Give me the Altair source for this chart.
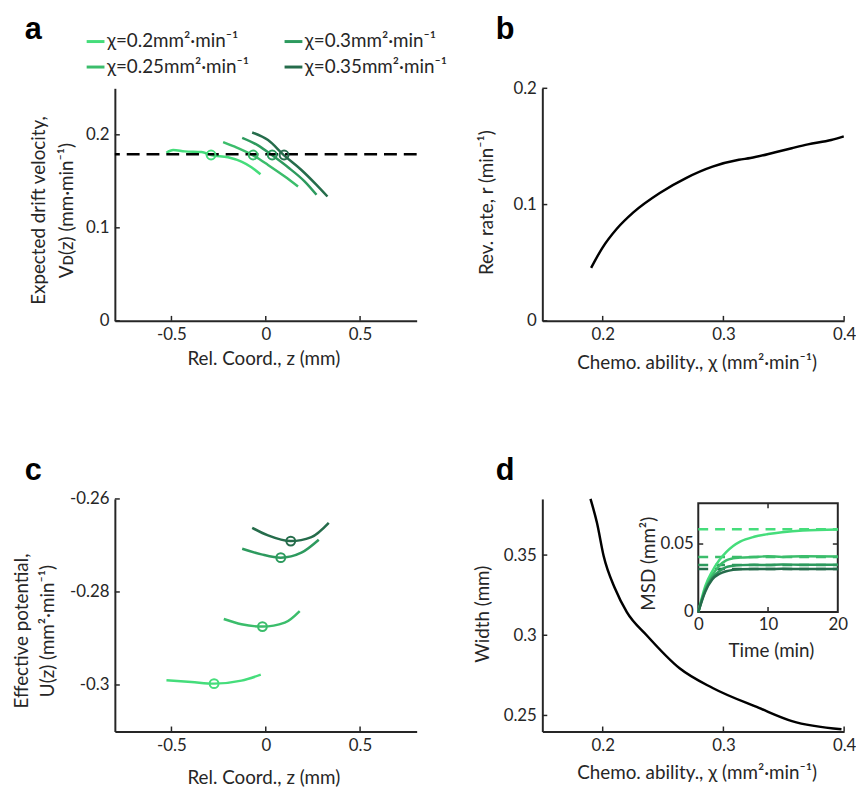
import altair as alt
import pandas as pd

FONT = "Lato"
LETTER_FONT = "Liberation Sans"
INK = "#262626"
W, H = 305, 235

chi_labels = ["χ=0.2mm²·min⁻¹", "χ=0.25mm²·min⁻¹", "χ=0.3mm²·min⁻¹", "χ=0.35mm²·min⁻¹"]
chi_colors = ["#45dd7b", "#3bbd6b", "#2d9a5e", "#256c4b"]
L020, L025, L030, L035 = chi_labels

# ---------------- panel a : expected drift velocity ----------------
a_z_020 = [-0.527, -0.491, -0.429, -0.341, -0.29, -0.20, -0.129, -0.076, -0.028]
a_v_020 = [0.1807, 0.1836, 0.1822, 0.1815, 0.1783, 0.1758, 0.1711, 0.1651, 0.1576]
a_z_025 = [-0.226, -0.164, -0.067, 0.012, 0.101, 0.171]
a_v_025 = [0.1922, 0.1872, 0.1779, 0.1676, 0.1551, 0.1444]
a_z_030 = [-0.125, -0.041, 0.034, 0.118, 0.207, 0.269]
a_v_030 = [0.1968, 0.1886, 0.1779, 0.1651, 0.1497, 0.1355]
a_z_035 = [-0.072, 0.012, 0.097, 0.189, 0.269, 0.327]
a_v_035 = [0.2025, 0.1943, 0.1779, 0.1622, 0.1462, 0.1337]
a_mark_z = [-0.29, -0.067, 0.034, 0.097]
a_mark_v = [0.1783, 0.1783, 0.1783, 0.1783]
a_target_v = [0.179]

# ---------------- panel b : reversal rate ----------------
b_chi = [0.1904, 0.1995, 0.2117, 0.2254, 0.2473, 0.269, 0.291, 0.3128, 0.3224, 0.343, 0.3566, 0.370, 0.3893, 0.3997]
b_rate = [0.0455, 0.0624, 0.0792, 0.0933, 0.110, 0.1228, 0.1326, 0.1385, 0.1400, 0.1450, 0.1485, 0.1518, 0.1556, 0.1587]

# ---------------- panel c : effective potential ----------------
c_z_020 = [-0.5265, -0.394, -0.274, -0.129, -0.0265]
c_u_020 = [-0.2990, -0.29936, -0.29971, -0.29907, -0.29779]
c_z_025 = [-0.2226, -0.129, -0.0177, 0.1007, 0.180]
c_u_025 = [-0.28581, -0.28695, -0.28745, -0.2866, -0.2841]
c_z_030 = [-0.125, -0.023, 0.0795, 0.189, 0.281]
c_u_030 = [-0.27070, -0.27191, -0.27262, -0.27155, -0.26877]
c_z_035 = [-0.072, 0.012, 0.1325, 0.242, 0.334]
c_u_035 = [-0.26620, -0.26784, -0.26906, -0.2682, -0.26513]
c_mark_z = [-0.274, -0.0177, 0.0795, 0.1325]
c_mark_u = [-0.29971, -0.28745, -0.27262, -0.26906]

# ---------------- panel d : width + MSD inset ----------------
d_chi = [0.1899, 0.1953, 0.2008, 0.2104, 0.2200, 0.2364, 0.2637, 0.2911, 0.3294, 0.3568, 0.3978]
d_width = [0.385, 0.370, 0.3494, 0.3288, 0.3144, 0.300, 0.2794, 0.2671, 0.2547, 0.2465, 0.2414]

ins_t = [0, 1, 2, 3, 4, 5, 6, 8, 10, 12, 15, 20]
ins_msd_020 = [0, 0.019, 0.030, 0.038, 0.044, 0.0485, 0.0517, 0.0553, 0.0573, 0.0587, 0.0600, 0.0607]
ins_msd_025 = [0, 0.017, 0.027, 0.034, 0.038, 0.0395, 0.0400, 0.0405, 0.0410, 0.0405, 0.0410, 0.0408]
ins_msd_030 = [0, 0.016, 0.025, 0.030, 0.033, 0.0340, 0.0345, 0.0348, 0.0345, 0.0350, 0.0347, 0.0348]
ins_msd_035 = [0, 0.015, 0.024, 0.028, 0.030, 0.0310, 0.0315, 0.0317, 0.0316, 0.0318, 0.0316, 0.0317]
ins_plateau = [0.0609, 0.0405, 0.0345, 0.0316]
ins_t_span = [0, 20]

# tick values
a_xticks = [-0.5, 0, 0.5]
a_yticks = [0, 0.1, 0.2]
b_xticks = [0.2, 0.3, 0.4]
b_yticks = [0, 0.1, 0.2]
c_yticks = [-0.3, -0.28, -0.26]
d_yticks = [0.25, 0.3, 0.35]
ins_xticks = [0, 10, 20]
ins_yticks = [0, 0.05]

# inset placement inside panel d (pixels)
INS_X0, INS_X1, INS_YB, INS_YT = 157.6, 298.6, 114.3, 4.3


def long(pairs):
    rows = []
    for lbl, xs, ys in pairs:
        for x, y in zip(xs, ys):
            rows.append({"chi": lbl, "x": x, "y": y})
    return pd.DataFrame(rows)


def color_enc(legend=None):
    return alt.Color("chi:N", scale=alt.Scale(domain=chi_labels, range=chi_colors), legend=legend)


def ax_bottom(title, values, tx, ty, **kw):
    return alt.Axis(title=title, values=values, labelExpr="'' + datum.value", ticks=False,
                    titleX=tx, titleY=ty, titleAlign="center", titleBaseline="middle", titleAngle=0,
                    labelPadding=6, labelFlush=False, labelOverlap=False, **kw)


def ax_left(title, values, tx, ty, lh=27, **kw):
    return alt.Axis(title=title, values=values, labelExpr="'' + datum.value", ticks=False,
                    titleX=tx, titleY=ty, titleAlign="center", titleBaseline="middle", titleAngle=270,
                    titleLineHeight=lh, labelPadding=6, labelFlush=False, labelOverlap=False, **kw)


def xticks(values, scale, axis):
    return alt.Chart(pd.DataFrame({"x": values})).mark_rule(color=INK, strokeWidth=1.5).encode(
        x=alt.X("x:Q", scale=scale, axis=axis), y=alt.value(H), y2=alt.value(H - 5))


def yticks(values, scale, axis):
    return alt.Chart(pd.DataFrame({"y": values})).mark_rule(color=INK, strokeWidth=1.5).encode(
        y=alt.Y("y:Q", scale=scale, axis=axis), x=alt.value(0), x2=alt.value(5))


def letter(ch, x, y):
    return alt.Chart(pd.DataFrame({"t": [ch]})).mark_text(
        font=LETTER_FONT, fontSize=31, fontWeight="bold", align="left", baseline="alphabetic", color="black"
    ).encode(text="t:N", x=alt.value(x), y=alt.value(y))


# ---------- panel a ----------
xs_a = alt.Scale(domain=[-0.8, 0.8], nice=False, zero=False)
ys_a = alt.Scale(domain=[0, 0.25], nice=False, zero=False)
xax_a = ax_bottom("Rel. Coord., z (mm)", a_xticks, 150, 38)
yax_a = ax_left(["Expected drift velocity,", "Vᴅ(z)  (mm·min⁻¹)"], a_yticks, -77, 123, lh=28)
df_a = long([(L020, a_z_020, a_v_020), (L025, a_z_025, a_v_025),
             (L030, a_z_030, a_v_030), (L035, a_z_035, a_v_035)])
legend_a = alt.Legend(title=None, orient="none", legendX=-30, legendY=-58, columns=2,
                      symbolType="stroke", symbolSize=324, symbolStrokeWidth=3,
                      labelFont=FONT, labelFontSize=19, labelColor=INK, rowPadding=5,
                      columnPadding=29, labelOffset=1, padding=0, direction="vertical")
lines_a = alt.Chart(df_a).mark_line(strokeWidth=2.5, interpolate="monotone").encode(
    x=alt.X("x:Q", scale=xs_a, axis=xax_a),
    y=alt.Y("y:Q", scale=ys_a, axis=yax_a),
    color=color_enc(legend_a),
)
dash_a = alt.Chart(pd.DataFrame({"y": a_target_v})).mark_rule(
    color="black", strokeWidth=2.5, strokeDash=[13, 7]).encode(y=alt.Y("y:Q", scale=ys_a, axis=yax_a))
marks_a = alt.Chart(pd.DataFrame({"chi": chi_labels, "x": a_mark_z, "y": a_mark_v})).mark_point(
    shape="circle", filled=False, size=80, strokeWidth=2, opacity=1).encode(
    x=alt.X("x:Q", scale=xs_a, axis=xax_a), y=alt.Y("y:Q", scale=ys_a, axis=yax_a), color=color_enc(legend_a))
panel_a = alt.layer(lines_a, dash_a, marks_a, xticks(a_xticks, xs_a, xax_a), yticks(a_yticks, ys_a, yax_a),
                    letter("a", -91, -50)).properties(width=W, height=H)

# ---------- panel b ----------
xs_b = alt.Scale(domain=[0.15, 0.4], nice=False, zero=False)
ys_b = alt.Scale(domain=[0, 0.2], nice=False, zero=False)
xax_b = ax_bottom("Chemo. ability., χ (mm²·min⁻¹)", b_xticks, 156, 42)
yax_b = ax_left("Rev. rate, r (min⁻¹)", b_yticks, -56, 115)
line_b = alt.Chart(pd.DataFrame({"x": b_chi, "y": b_rate})).mark_line(
    color="black", strokeWidth=2.5, interpolate="monotone").encode(
    x=alt.X("x:Q", scale=xs_b, axis=xax_b),
    y=alt.Y("y:Q", scale=ys_b, axis=yax_b),
)
panel_b = alt.layer(line_b, xticks(b_xticks, xs_b, xax_b), yticks(b_yticks, ys_b, yax_b),
                    letter("b", -47, -50)).properties(width=W, height=H)

# ---------- panel c ----------
xs_c = alt.Scale(domain=[-0.8, 0.8], nice=False, zero=False)
ys_c = alt.Scale(domain=[-0.31, -0.26], nice=False, zero=False)
xax_c = ax_bottom("Rel. Coord., z (mm)", a_xticks, 150, 47)
yax_c = ax_left(["Effective potential,", "U(z) (mm²·min⁻¹)"], c_yticks, -94, 133, lh=26)
df_c = long([(L020, c_z_020, c_u_020), (L025, c_z_025, c_u_025),
             (L030, c_z_030, c_u_030), (L035, c_z_035, c_u_035)])
lines_c = alt.Chart(df_c).mark_line(strokeWidth=2.5, interpolate="monotone").encode(
    x=alt.X("x:Q", scale=xs_c, axis=xax_c),
    y=alt.Y("y:Q", scale=ys_c, axis=yax_c),
    color=color_enc(),
)
marks_c = alt.Chart(pd.DataFrame({"chi": chi_labels, "x": c_mark_z, "y": c_mark_u})).mark_point(
    shape="circle", filled=False, size=80, strokeWidth=2, opacity=1).encode(
    x=alt.X("x:Q", scale=xs_c, axis=xax_c), y=alt.Y("y:Q", scale=ys_c, axis=yax_c), color=color_enc())
panel_c = alt.layer(lines_c, marks_c, xticks(a_xticks, xs_c, xax_c), yticks(c_yticks, ys_c, yax_c),
                    letter("c", -91, -19)).properties(width=W, height=H)

# ---------- panel d ----------
xs_d = alt.Scale(domain=[0.15, 0.4], nice=False, zero=False)
ys_d = alt.Scale(domain=[0.24, 0.385], nice=False, zero=False)
xax_d = ax_bottom("Chemo. ability., χ (mm²·min⁻¹)", b_xticks, 156, 42)
yax_d = ax_left("Width (mm)", d_yticks, -60, 116)
line_d = alt.Chart(pd.DataFrame({"x": d_chi, "y": d_width})).mark_line(
    color="black", strokeWidth=2.5, interpolate="monotone").encode(
    x=alt.X("x:Q", scale=xs_d, axis=xax_d),
    y=alt.Y("y:Q", scale=ys_d, axis=yax_d),
)
d_main = alt.layer(line_d, xticks(b_xticks, xs_d, xax_d), yticks(d_yticks, ys_d, yax_d), letter("d", -47, -19))

xs_i = alt.Scale(domain=[0, 20], range=[INS_X0, INS_X1], nice=False, zero=False)
ys_i = alt.Scale(domain=[0, 0.08], range=[INS_YB, INS_YT], nice=False, zero=False)
xax_i = alt.Axis(orient="bottom", offset=-(H - INS_YB), values=ins_xticks, labelExpr="'' + datum.value",
                 ticks=False, domain=False, labelPadding=5, labelFlush=False, labelOverlap=False,
                 title="Time (min)", titleX=231, titleY=39, titleAlign="center", titleBaseline="middle",
                 titleAngle=0)
yax_i = alt.Axis(orient="left", offset=-INS_X0, values=ins_yticks, labelExpr="'' + datum.value",
                 ticks=False, domain=False, labelPadding=5, labelFlush=False, labelOverlap=False,
                 title="MSD (mm²)", titleX=-50, titleY=65, titleAlign="center", titleBaseline="middle",
                 titleAngle=270)
ins_box = alt.Chart(pd.DataFrame({"x": [ins_t_span[0]], "x1": [ins_t_span[1]], "y": [0], "y1": [0.08]})).mark_rect(
    fill="white", stroke=INK, strokeWidth=2).encode(
    x=alt.X("x:Q", scale=xs_i, axis=xax_i), x2="x1:Q",
    y=alt.Y("y:Q", scale=ys_i, axis=yax_i), y2="y1:Q",
)
df_ins = long([(L020, ins_t, ins_msd_020), (L025, ins_t, ins_msd_025),
               (L030, ins_t, ins_msd_030), (L035, ins_t, ins_msd_035)])
ins_lines = alt.Chart(df_ins).mark_line(strokeWidth=2.5, interpolate="monotone").encode(
    x=alt.X("x:Q", scale=xs_i, axis=xax_i), y=alt.Y("y:Q", scale=ys_i, axis=yax_i), color=color_enc())
df_pl = pd.DataFrame({"chi": chi_labels, "y": ins_plateau,
                      "x": [ins_t_span[0]] * 4, "x1": [ins_t_span[1]] * 4})
ins_dash = alt.Chart(df_pl).mark_rule(strokeWidth=2.5, strokeDash=[10, 7]).encode(
    x=alt.X("x:Q", scale=xs_i, axis=xax_i), x2="x1:Q",
    y=alt.Y("y:Q", scale=ys_i, axis=yax_i), color=color_enc())
ins_tx = pd.DataFrame({"x": [ins_xticks[1]]})
ins_ty = pd.DataFrame({"y": [ins_yticks[1]]})
ins_tb = alt.Chart(ins_tx).mark_rule(color=INK, strokeWidth=1.5).encode(
    x=alt.X("x:Q", scale=xs_i, axis=xax_i), y=alt.value(INS_YB), y2=alt.value(INS_YB - 5))
ins_tt = alt.Chart(ins_tx).mark_rule(color=INK, strokeWidth=1.5).encode(
    x=alt.X("x:Q", scale=xs_i, axis=xax_i), y=alt.value(INS_YT), y2=alt.value(INS_YT + 5))
ins_tl = alt.Chart(ins_ty).mark_rule(color=INK, strokeWidth=1.5).encode(
    y=alt.Y("y:Q", scale=ys_i, axis=yax_i), x=alt.value(INS_X0), x2=alt.value(INS_X0 + 5))
ins_tr = alt.Chart(ins_ty).mark_rule(color=INK, strokeWidth=1.5).encode(
    y=alt.Y("y:Q", scale=ys_i, axis=yax_i), x=alt.value(INS_X1), x2=alt.value(INS_X1 - 5))
d_inset = alt.layer(ins_box, ins_dash, ins_lines, ins_tb, ins_tt, ins_tl, ins_tr)

panel_d = alt.layer(d_main, d_inset).resolve_scale(x="independent", y="independent").properties(width=W, height=H)

chart = alt.concat(panel_a, panel_b, panel_c, panel_d, columns=2,
                   spacing=alt.RowColnumber(row=180, column=127), bounds="flush"
                   ).resolve_scale(color="independent").properties(
    padding={"left": 5, "top": 2, "right": 0, "bottom": 0}
).configure_view(stroke=None).configure_axis(
    labelFont=FONT, labelFontSize=17, labelColor=INK,
    titleFont=FONT, titleFontSize=19, titleFontWeight="normal", titleColor=INK,
    domainColor=INK, domainWidth=2, grid=False,
)

chart.save("out.html", embed_options={"renderer": "svg", "actions": False})
